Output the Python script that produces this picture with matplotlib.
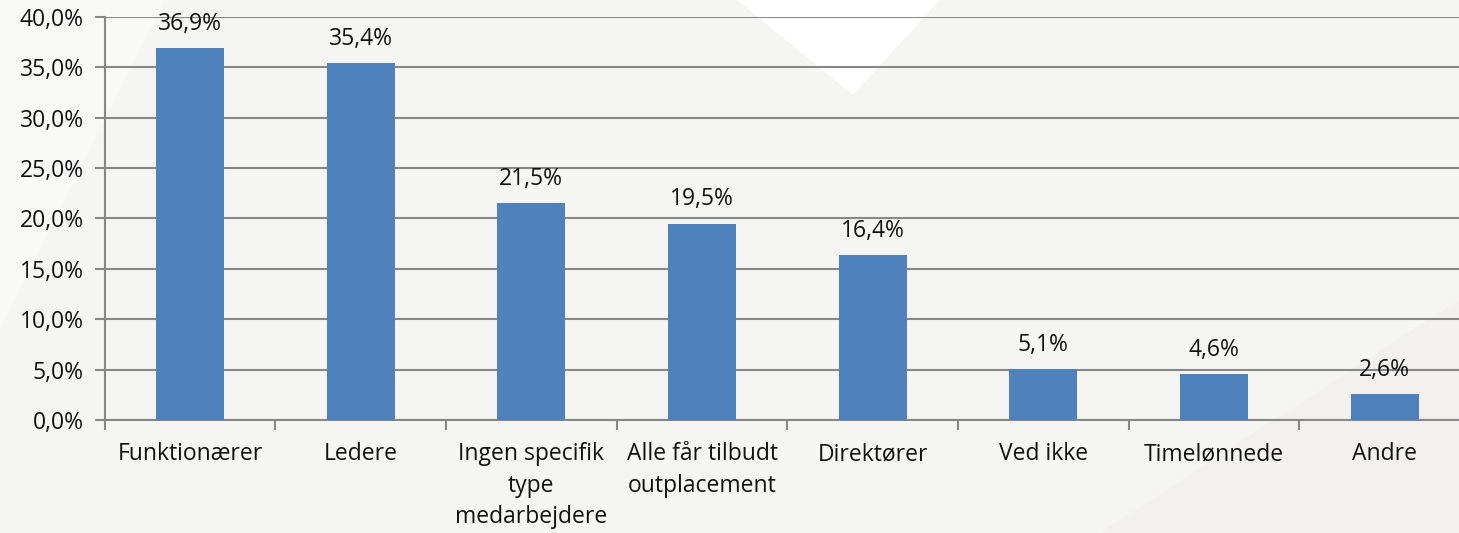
import matplotlib.pyplot as plt
from matplotlib.patches import Polygon

categories = ['Funktionærer', 'Ledere', 'Ingen specifik\ntype\nmedarbejdere',
              'Alle får tilbudt\noutplacement', 'Direktører', 'Ved ikke',
              'Timelønnede', 'Andre']
values = [36.9, 35.4, 21.5, 19.5, 16.4, 5.1, 4.6, 2.6]
yticks = [0, 5, 10, 15, 20, 25, 30, 35, 40]

plt.rcParams['font.family'] = ['Open Sans', 'DejaVu Sans']
FS = 16.5

fig = plt.figure(figsize=(14.59, 5.33), dpi=100)
fig.patch.set_facecolor('#f5f5f3')

# subtle background shapes, in pixel coords of a full-figure axes
W, H = 1459, 533
bg = fig.add_axes([0, 0, 1, 1], zorder=-10)
bg.set_xlim(0, W)
bg.set_ylim(H, 0)
bg.axis('off')
bg.add_patch(Polygon([(0, 0), (165, 0), (0, 330)], facecolor='#f8f8f7', edgecolor='none'))
bg.add_patch(Polygon([(737, 0), (940, 0), (853, 95)], facecolor='#ffffff', edgecolor='none'))
bg.add_patch(Polygon([(1100, 533), (1459, 300), (1459, 533)], facecolor='#f2f1ef', edgecolor='none'))

# plot area runs slightly past the right edge, as in the original
ax = fig.add_axes([104.7 / W, 1 - 420 / H, (1470 - 104.7) / W, (420 - 17) / H])
ax.set_facecolor('none')

x = range(len(categories))
bars = ax.bar(x, values, width=0.4, color='#4f81bd', zorder=3)

for b, v in zip(bars, values):
    ax.text(b.get_x() + b.get_width() / 2, v + 1.2, f'{v:.1f}%'.replace('.', ','),
            ha='center', va='bottom', fontsize=FS, color='#111111', zorder=4)

ax.set_xlim(-0.5, len(categories) - 0.5)
ax.set_ylim(0, 40)
ax.set_yticks(yticks)
ax.set_yticklabels([f'{t:.1f}%'.replace('.', ',') for t in yticks], fontsize=FS)
ax.yaxis.grid(True, color='#888888', linewidth=1.5, zorder=0)

ax.set_xticks([i - 0.5 for i in range(len(categories) + 1)])
ax.set_xticklabels([])
ax.set_xticks(list(x), minor=True)
ax.set_xticklabels(categories, minor=True, fontsize=FS, linespacing=1.42)
ax.tick_params(axis='x', which='minor', length=0, pad=16, labelcolor='#111111')
ax.tick_params(axis='x', which='major', length=7, width=1.5, color='#888888')
ax.tick_params(axis='y', length=7, width=1.5, color='#888888', pad=8, labelcolor='#111111')

for s in ['top', 'right']:
    ax.spines[s].set_visible(False)
for s in ['left', 'bottom']:
    ax.spines[s].set_color('#888888')
    ax.spines[s].set_linewidth(1.5)

fig.savefig('out.png', dpi=100, facecolor=fig.get_facecolor())
